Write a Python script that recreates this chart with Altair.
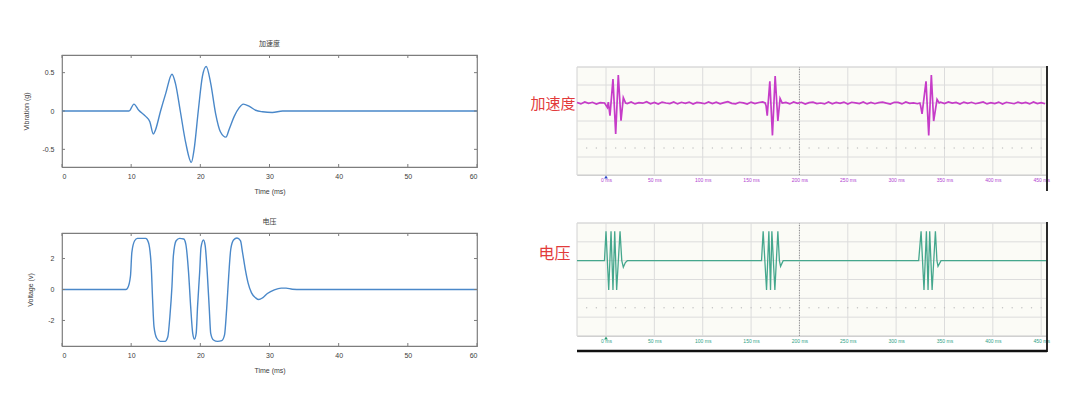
import altair as alt
import pandas as pd

# ---------------- left (simulation) panels ----------------
acc_t = [0, 9.7, 10.4, 11.1, 12.1, 12.7, 13.2, 13.5, 14.25, 15.0,
         15.9, 16.4, 17.1, 17.9, 18.7, 19.1, 19.7, 20.3, 20.85, 21.5,
         22.2, 22.9, 23.7, 24.2, 24.9, 25.6, 26.2, 27.1, 28.0, 29.0,
         30.4, 31.9, 60]
acc_v = [0, 0, 0.09, 0.01, -0.07, -0.14, -0.30, -0.25, 0.0, 0.23,
         0.48, 0.36, 0.0, -0.42, -0.67, -0.5, 0.0, 0.45, 0.58, 0.36,
         -0.03, -0.27, -0.34, -0.23, -0.07, 0.04, 0.09, 0.06, 0.01, -0.01,
         -0.02, 0.0, 0]

volt_t = [0, 9.25, 9.5, 9.9, 10.1, 10.5, 10.9, 12.1, 12.5, 12.9,
          13.1, 13.3, 13.7, 14.2, 14.9, 15.3, 15.6, 15.9, 16.1, 16.5,
          17.0, 17.6, 17.9, 18.3, 18.6, 18.9, 19.15, 19.4, 19.6, 19.9,
          20.1, 20.45, 20.7, 21.0, 21.3, 21.5, 21.9, 22.5, 23.1, 23.5,
          23.8, 24.1, 24.4, 24.8, 25.3, 25.8, 26.1, 26.5, 26.9, 27.4,
          28.0, 28.45, 29.0, 29.7, 30.7, 31.7, 32.4, 33.3, 34.6, 60]
volt_v = [0, 0, 0.1, 0.87, 2.4, 3.15, 3.3, 3.3, 3.04, 1.5,
          -0.65, -2.4, -3.15, -3.35, -3.35, -3.05, -1.74, 0.22, 2.17, 3.15,
          3.3, 3.26, 2.93, 1.09, -1.09, -2.83, -3.2, -2.83, -1.09, 1.09,
          2.72, 3.2, 2.83, 1.09, -1.3, -2.83, -3.26, -3.35, -3.3, -2.93,
          -1.3, 0.87, 2.6, 3.2, 3.33, 3.15, 2.4, 1.3, 0.43, -0.22,
          -0.54, -0.65, -0.54, -0.26, -0.02, 0.09, 0.09, 0.02, 0, 0]

left_x_ticks = [0, 10, 20, 30, 40, 50, 60]
acc_y_ticks = [-0.5, 0, 0.5]
volt_y_ticks = [-2, 0, 2]

# ---------------- right (oscilloscope) panels, y in divisions ----------------
scope_x_ticks = [0, 50, 100, 150, 200, 250, 300, 350, 400, 450]
scope_y_grid = [-4, -3, -2, -1, 0, 1, 2]
scope_x_range = [-30, 456]

acc_burst_t = [-1.5, 1.4, 2.4, 4.1, 7.2, 10.0, 12.7, 15.5, 17.9, 20.3,
               164.5, 165.5, 166.7, 169.4, 172.1, 174.9, 177.7, 180.0, 182.2,
               324.5, 325.3, 326.8, 330.9, 333.7, 336.4, 338.8, 342.3, 344.5]
acc_burst_v = [0, -0.25, 0.05, -0.7, 1.33, -1.72, 1.55, -0.98, 0.3, 0,
               0, -0.15, -0.7, 1.2, -1.8, 1.5, -1.0, 0.25, 0,
               0, -0.15, -0.6, 1.2, -1.8, 1.55, -1.0, 0.2, 0]
# baseline wobble of the accelerometer trace, one reading every 4 ms from -30 ms
acc_noise = [0.03, -0.05, 0.06, -0.02, 0.04, -0.06, 0.02, 0.05, -0.04, 0.01,
             -0.07, 0.05, 0.03, -0.03, 0.06, -0.05, 0.02, -0.01, 0.07, -0.04,
             0.03, -0.06, 0.05, 0.00, -0.03, 0.06, -0.05, 0.04, -0.02, 0.05,
             -0.06, 0.03, 0.01, -0.04, 0.06, -0.03, 0.04, -0.05, 0.02, 0.07,
             -0.02, -0.05, 0.04, 0.01, -0.06, 0.05, -0.03, 0.03, 0.06, -0.04,
             0.02, -0.07, 0.05, -0.01, 0.03, -0.05, 0.06, -0.02, 0.04, -0.06,
             0.02, 0.05, -0.03, 0.00, -0.05, 0.06, -0.04, 0.03, -0.02, 0.05,
             -0.06, 0.04, 0.01, -0.03, 0.06, -0.05, 0.03, -0.04, 0.02, 0.05,
             -0.01, -0.06, 0.04, 0.03, -0.05, 0.06, -0.02, 0.01, -0.04, 0.05,
             -0.06, 0.03, 0.02, -0.05, 0.04, -0.03, 0.06, -0.01, 0.03, -0.06,
             0.05, -0.02, 0.04, -0.04, 0.01, 0.06, -0.05, 0.02, -0.03, 0.05,
             -0.06, 0.04, 0.00, -0.04, 0.05, -0.02, 0.03, -0.05, 0.06, -0.03,
             0.02, -0.04]
burst_windows = [(-2, 21), (164, 183), (324, 345)]

volt_scope_t = [-30, -1.6, 0, 2.8, 5.2, 7.2, 9, 11, 14.5, 16.3,
                17.9, 20, 22, 160.8, 162.5, 166, 168.4, 170.1, 171.5, 174.6,
                177.7, 179.3, 180.5, 183.2, 323.3, 325.8, 328.8, 331.3, 333, 334.7,
                337.2, 340.6, 342.2, 343.3, 346.4, 456]
volt_scope_v = [0, 0, 1.56, -1.56, 1.56, -1.56, 1.56, -1.56, 1.56, 0,
                -0.35, -0.1, 0, 0, 1.56, -1.56, 1.56, -1.56, 1.56, -1.56,
                1.56, 0, -0.3, 0, 0, 1.56, -1.56, 1.56, -1.56, 1.56,
                -1.56, 1.56, 0, -0.3, 0, 0]

minor_dots = list(range(-20, 456, 10))

# ---------------- styling ----------------
FONT = "Liberation Sans"
CJK = "Noto Sans CJK SC"
TXT = "#3c3c3c"
FRAME = "#7d7d7d"
BLUE = "#4a88c9"
RED = "#e23b3b"
MAGENTA = "#c63cc8"
TEAL = "#45a78d"
GRID = "#dcdcdc"


def left_panel(t, v, ydom, yticks, ytitle, title, h, title_pad):
    w = 415
    df = pd.DataFrame({"t": t, "v": v})
    xt = pd.DataFrame({"t": left_x_ticks})
    yt = pd.DataFrame({"v": yticks})
    x = alt.X("t:Q", scale=alt.Scale(domain=[0, 60], nice=False, zero=False),
              axis=alt.Axis(values=left_x_ticks, title="Time (ms)", tickSize=0, domain=False,
                            grid=False, labelFont=FONT, labelFontSize=7, labelColor=TXT,
                            labelPadding=5, titleFont=FONT, titleFontSize=7,
                            titleFontWeight="normal", titleColor=TXT, titlePadding=8))
    y = alt.Y("v:Q", scale=alt.Scale(domain=ydom, nice=False, zero=False),
              axis=alt.Axis(values=yticks, labelExpr="toString(datum.value)", title=ytitle,
                            tickSize=0, domain=False, grid=False, labelFont=FONT,
                            labelFontSize=7, labelColor=TXT, labelPadding=8, titleFont=FONT,
                            titleFontSize=7, titleFontWeight="normal", titleColor=TXT,
                            titlePadding=title_pad))
    one = pd.DataFrame({"a": [0]})
    line = alt.Chart(df).mark_line(color=BLUE, strokeWidth=1.4, interpolate="monotone").encode(x=x, y=y)
    tb = alt.Chart(xt).mark_rule(color=FRAME, strokeWidth=1).encode(x=x, y=alt.value(h), y2=alt.value(h - 3))
    tt = alt.Chart(xt).mark_rule(color=FRAME, strokeWidth=1).encode(x=x, y=alt.value(0), y2=alt.value(3))
    tl = alt.Chart(yt).mark_rule(color=FRAME, strokeWidth=1).encode(y=y, x=alt.value(0), x2=alt.value(3))
    tr = alt.Chart(yt).mark_rule(color=FRAME, strokeWidth=1).encode(y=y, x=alt.value(w), x2=alt.value(w - 3))
    # invisible (white) spacers fixing the horizontal extent of the panel
    sp_l = alt.Chart(one).mark_rule(color="white", strokeWidth=1).encode(
        x=alt.value(-50), x2=alt.value(-45), y=alt.value(-4))
    sp_r = alt.Chart(one).mark_rule(color="white", strokeWidth=1).encode(
        x=alt.value(w + 20), x2=alt.value(w + 25), y=alt.value(-4))
    return alt.layer(line, tb, tt, tl, tr, sp_l, sp_r).properties(
        width=w, height=h,
        title=alt.TitleParams(title, font=CJK, fontSize=7, fontWeight="normal", color=TXT, offset=4),
        view=alt.ViewBackground(fill="white", stroke=FRAME, strokeWidth=1.2),
    )


def scope_panel(df, color, lab_color, name, name_x, name_y, name_size, h, top_pad, mark_color, bar, noisy):
    w = 470
    ht = h + top_pad
    top_val = 2 + top_pad / (h / 6.0)
    x = alt.X("t:Q", scale=alt.Scale(domain=scope_x_range, nice=False, zero=False),
              axis=alt.Axis(values=scope_x_ticks, labelExpr="datum.value + ' ms'", title=None,
                            tickSize=0, domainColor="#b8b8b8", domainWidth=1, grid=False,
                            labelFont=FONT, labelFontSize=5, labelColor=lab_color, labelPadding=2))
    y = alt.Y("v:Q", scale=alt.Scale(domain=[-4, top_val], nice=False, zero=False),
              axis=alt.Axis(values=scope_y_grid, labels=False, ticks=False, domain=False, grid=False,
                            title=name, titleAngle=0, titleColor=RED, titleFont=CJK,
                            titleFontSize=name_size, titleFontWeight="normal", titleAlign="right",
                            titleBaseline="middle", titleX=name_x, titleY=top_pad + name_y))
    one = pd.DataFrame({"a": [0]})
    panel = alt.Chart(pd.DataFrame({"t": [scope_x_range[0]], "t2": [scope_x_range[1]],
                                    "v": [-4], "v2": [2]})).mark_rect(
        fill="#fbfbf6", stroke="#d2d2d2", strokeWidth=1).encode(x=x, x2="t2:Q", y=y, y2="v2:Q")
    vgrid = alt.Chart(pd.DataFrame({"t": scope_x_ticks, "v": [-4] * len(scope_x_ticks),
                                    "v2": [2] * len(scope_x_ticks)})).mark_rule(
        color=GRID, strokeWidth=1).encode(x=x, y=y, y2="v2:Q")
    hgrid = alt.Chart(pd.DataFrame({"v": scope_y_grid, "t": [scope_x_range[0]] * len(scope_y_grid),
                                    "t2": [scope_x_range[1]] * len(scope_y_grid)})).mark_rule(
        color=GRID, strokeWidth=1).encode(y=y, x=x, x2="t2:Q")
    dots = alt.Chart(pd.DataFrame({"t": minor_dots, "v": [-2.5] * len(minor_dots)})).mark_circle(
        size=2, color="#c2c2c2", opacity=1).encode(x=x, y=y)
    center = alt.Chart(pd.DataFrame({"t": [200], "v": [-4], "v2": [2]})).mark_rule(
        color="#8c8c8c", strokeWidth=1, strokeDash=[1, 1.5]).encode(x=x, y=y, y2="v2:Q")
    trace = alt.Chart(df).mark_line(color=color, strokeWidth=1.7 if noisy else 1.3).encode(x=x, y=y)
    border = alt.Chart(one).mark_rule(color="#2a2a2a", strokeWidth=2).encode(
        x=alt.value(w), y=alt.value(top_pad - 1), y2=alt.value(ht + 16))
    trig = alt.Chart(pd.DataFrame({"t": [0]})).mark_point(
        shape="triangle-up", filled=True, size=14, color=mark_color, opacity=1).encode(
        x=x, y=alt.value(ht + 2))
    layers = [panel, vgrid, hgrid, dots, center, trace, border, trig]
    if bar:
        layers.append(alt.Chart(one).mark_rule(color="#111111", strokeWidth=2.5).encode(
            x=alt.value(0), x2=alt.value(w), y=alt.value(ht + 15)))
    return alt.layer(*layers).properties(
        width=w, height=ht,
        view=alt.ViewBackground(fill=None, stroke=None),
    )


# build accelerometer scope trace: baseline readings outside the bursts + burst readings
base_t = [-30 + 4 * i for i in range(len(acc_noise))]
rows = [(t, n) for t, n in zip(base_t, acc_noise)
        if not any(a <= t <= b for a, b in burst_windows)]
rows += list(zip(acc_burst_t, acc_burst_v))
acc_scope = pd.DataFrame(rows, columns=["t", "v"]).sort_values("t")
volt_scope = pd.DataFrame({"t": volt_scope_t, "v": volt_scope_v})

tl = left_panel(acc_t, acc_v, [-0.73, 0.73], acc_y_ticks, "Vibration (g)", "加速度", 112, 12)
bl = left_panel(volt_t, volt_v, [-3.65, 3.65], volt_y_ticks, "Voltage (v)", "电压", 113, 14)
tr = scope_panel(acc_scope, MAGENTA, "#b043cf", "加速度", -2, 36, 15, 108, 12, "#2b45c8", False, True)
br = scope_panel(volt_scope, TEAL, "#2f9f86", "电压", -7, 30, 16, 113, 0, "#2a9a70", True, False)

left = alt.vconcat(tl, bl, spacing=66, bounds="flush")
right = alt.vconcat(tr, br, spacing=48, bounds="flush")
chart = alt.hconcat(left, right, spacing=25).properties(
    background="white", padding={"left": 2, "top": 30, "right": 5, "bottom": 5})

chart.save("out.html", embed_options={"renderer": "svg", "actions": False})
